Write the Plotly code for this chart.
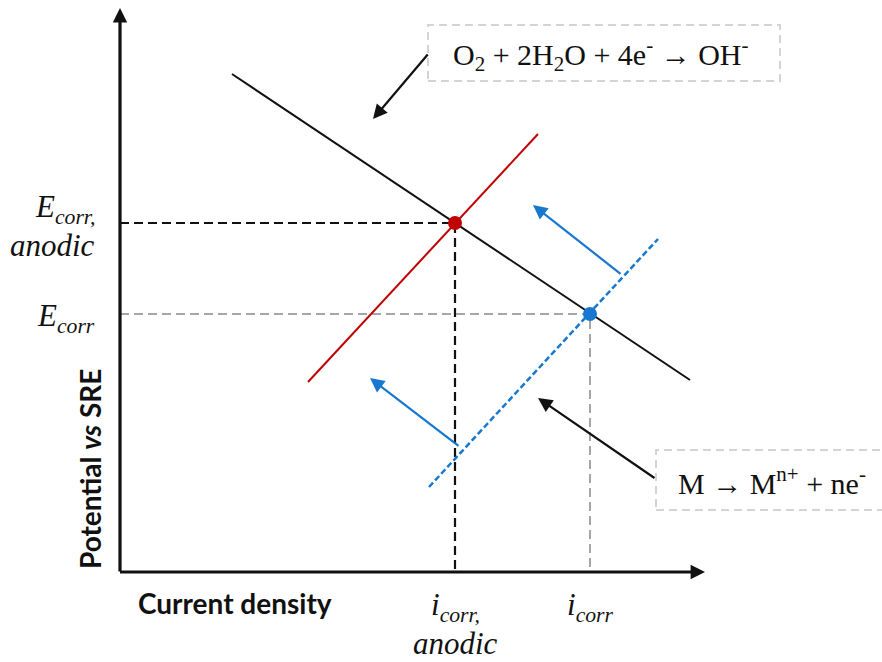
import plotly.graph_objects as go

# Schematic polarisation diagram (arbitrary units: current density vs potential)
# Cathodic branch: oxygen reduction
cathodic_i = [112, 570]
cathodic_E = [498, 192]
# Anodic branch after the shift (red) and original anodic branch (blue dashed)
anodic_shift_i = [188, 418]
anodic_shift_E = [190, 438]
anodic_i = [309, 538]
anodic_E = [85, 333]

# Corrosion points
ecorr_anodic = 349
icorr_anodic = 335
ecorr = 258
icorr = 470

# Shift arrows (tail -> head)
shift_arrows = [((502, 297), (413, 367)), ((340, 125), (250, 194))]
# Pointer arrows from the reaction labels (tail -> head)
pointer_arrows = [((309, 519), (253, 453)), ((536, 93), (418, 174))]

# Reaction labels and their boxes
reactions = [
    "O<sub>2</sub> + 2H<sub>2</sub>O + 4e<sup>-</sup> → OH<sup>-</sup>",
    "M → M<sup>n+</sup> + ne<sup>-</sup>",
]
reaction_pos = [(481, 518), (652, 91)]
reaction_boxes = [(308, 491, 660, 547), (536, 62, 800, 122)]

# Axis extents
x_end = 585
y_end = 564

BLACK = "#111111"
RED = "#c00000"
BLUE = "#1878d0"
GRAY = "#a6a6a6"
SERIF = "Liberation Serif"
SANS = "Lato"

fig = go.Figure()

# Guide lines to the axes
fig.add_trace(go.Scatter(x=[0, icorr_anodic, icorr_anodic], y=[ecorr_anodic, ecorr_anodic, 0],
                         mode="lines", line=dict(color=BLACK, width=2.2, dash="9px,5px")))
fig.add_trace(go.Scatter(x=[0, icorr, icorr], y=[ecorr, ecorr, 0],
                         mode="lines", line=dict(color=GRAY, width=2, dash="9px,5px")))

# Polarisation branches
fig.add_trace(go.Scatter(x=anodic_i, y=anodic_E, mode="lines",
                         line=dict(color=BLUE, width=2.5, dash="6px,3px")))
fig.add_trace(go.Scatter(x=cathodic_i, y=cathodic_E, mode="lines",
                         line=dict(color=BLACK, width=2)))
fig.add_trace(go.Scatter(x=anodic_shift_i, y=anodic_shift_E, mode="lines",
                         line=dict(color=RED, width=2)))

# Intersection points
fig.add_trace(go.Scatter(x=[icorr_anodic], y=[ecorr_anodic], mode="markers",
                         marker=dict(color=RED, size=14)))
fig.add_trace(go.Scatter(x=[icorr], y=[ecorr], mode="markers",
                         marker=dict(color=BLUE, size=14)))

annotations = []


def arrow(tail, head, color, width, size=1.0):
    annotations.append(dict(
        x=head[0], y=head[1], ax=tail[0], ay=tail[1],
        xref="x", yref="y", axref="x", ayref="y",
        text="", showarrow=True, arrowhead=2, arrowsize=size,
        arrowwidth=width, arrowcolor=color, standoff=0, startstandoff=0,
    ))


# Axes with arrowheads
arrow((0, -1), (0, y_end), BLACK, 3.2, 0.9)
arrow((-1.5, 0), (x_end, 0), BLACK, 3.2, 0.9)

for tail, head in shift_arrows:
    arrow(tail, head, BLUE, 2.2, 1.3)
for tail, head in pointer_arrows:
    arrow(tail, head, BLACK, 2.2, 1.3)

# Reaction labels
for text, (x, y) in zip(reactions, reaction_pos):
    annotations.append(dict(x=x, y=y, xref="x", yref="y", text=text, showarrow=False,
                            font=dict(family=SERIF, size=30, color=BLACK)))

# Tick-style labels
serif_labels = [
    ("<i>E<sub>corr,</sub></i>", -23, 363, "right"),
    ("<i>anodic</i>", -23, 327, "right"),
    ("<i>E<sub>corr</sub></i>", -23, 254, "right"),
    ("<i>i<sub>corr,</sub></i>", icorr_anodic, -35, "center"),
    ("<i>anodic</i>", icorr_anodic, -71, "center"),
    ("<i>i<sub>corr</sub></i>", icorr, -35, "center"),
]
for text, x, y, anchor in serif_labels:
    annotations.append(dict(x=x, y=y, xref="x", yref="y", text=text, showarrow=False,
                            xanchor=anchor, font=dict(family=SERIF, size=31, color=BLACK)))

# Axis titles
annotations.append(dict(x=115, y=-31, xref="x", yref="y", text="<b>Current density</b>",
                        showarrow=False, font=dict(family=SANS, size=28, color=BLACK)))
annotations.append(dict(x=-30, y=103, xref="x", yref="y", text="<b>Potential <i>vs</i> SRE</b>",
                        showarrow=False, textangle=-90, font=dict(family=SANS, size=28, color=BLACK)))

shapes = []
for x0, y0, x1, y1 in reaction_boxes:
    shapes.append(dict(type="rect", xref="x", yref="y", x0=x0, y0=y0, x1=x1, y1=y1,
                       line=dict(color="#d4d4d4", width=2, dash="8px,5px"),
                       fillcolor="rgba(0,0,0,0)", layer="below"))

fig.update_layout(
    width=882, height=662,
    margin=dict(l=0, r=0, t=0, b=0),
    paper_bgcolor="white", plot_bgcolor="white",
    showlegend=False,
    xaxis=dict(range=[-120, 762], visible=False, fixedrange=True),
    yaxis=dict(range=[-90, 572], visible=False, fixedrange=True),
    annotations=annotations,
    shapes=shapes,
)

fig.write_html("out.html")
